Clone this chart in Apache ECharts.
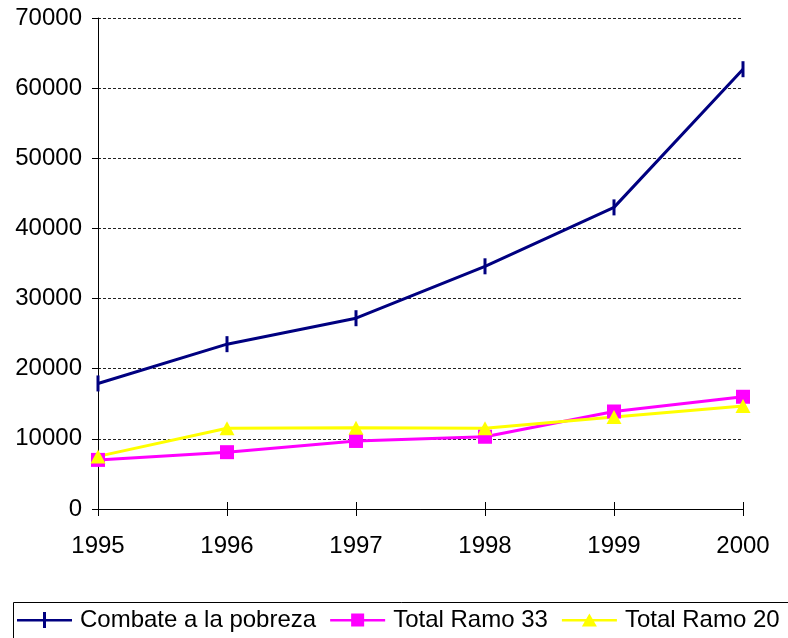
<!DOCTYPE html>
<html>
<head>
<meta charset="utf-8">
<script src="https://cdn.jsdelivr.net/npm/echarts@6/dist/echarts.min.js"></script>
<style>html,body{margin:0;padding:0;background:#fff;}#c{width:788px;height:638px;}</style>
</head>
<body>
<div id="c"></div>
<script>
const years = ['1995', '1996', '1997', '1998', '1999', '2000'];
const combate = [17900, 23500, 27200, 34600, 43000, 62700];
const ramo33 = [7000, 8100, 9700, 10300, 13900, 16000];
const ramo20 = [7500, 11500, 11600, 11500, 13100, 14700];
const yTicks = [0, 10000, 20000, 30000, 40000, 50000, 60000, 70000];

const FONT = 'Arial, "Liberation Sans", sans-serif';
const chart = echarts.init(document.getElementById('c'), null, {renderer: 'canvas'});
chart.setOption({
  animation: false,
  backgroundColor: '#fff',
  textStyle: {fontFamily: FONT},
  grid: {left: 98, right: 45, top: 18, bottom: 129, containLabel: false},
  graphic: [{
    type: 'rect', left: 11, top: 600, z: 0,
    shape: {x: 0, y: 0, width: 800, height: 60},
    style: {fill: 'none', stroke: '#000', lineWidth: 1}
  }],
  xAxis: [{
    type: 'category', data: years, boundaryGap: false,
    axisLine: {lineStyle: {color: '#000', width: 1}},
    axisTick: {show: true, length: 7, lineStyle: {color: '#000'}},
    axisLabel: {fontSize: 24, color: '#000', margin: 25, fontFamily: FONT},
    splitLine: {show: false}
  }, {
    type: 'category', data: years, boundaryGap: false, position: 'bottom',
    axisLine: {show: false},
    axisTick: {show: true, inside: true, length: 7, lineStyle: {color: '#000'}},
    axisLabel: {show: false},
    splitLine: {show: false}
  }],
  yAxis: {
    type: 'value', min: yTicks[0], max: yTicks[yTicks.length - 1], interval: 10000,
    axisLine: {show: true, lineStyle: {color: '#000', width: 1}},
    axisTick: {show: true, length: 6, lineStyle: {color: '#000'}},
    axisLabel: {fontSize: 24, color: '#000', margin: 16, fontFamily: FONT,
      formatter: function (v) { return String(v); }},
    splitLine: {show: true, lineStyle: {color: '#222', width: 1, type: [3, 2]}}
  },
  legend: {
    left: 12, top: 600, right: 0,
    orient: 'horizontal',
    padding: [8, 0, 0, 5],
    itemWidth: 55, itemHeight: 16, itemGap: 14,
    textStyle: {fontSize: 24, color: '#000', fontFamily: FONT, padding: [0, 0, 0, 3]},
    data: [
      {name: 'Combate a la pobreza', icon: 'path://M0,7 L55,7 L55,9.5 L0,9.5 Z M26,0 L29,0 L29,16 L26,16 Z', itemStyle: {color: '#000080'}},
      {name: 'Total Ramo 33', icon: 'path://M0,0 L0.01,0 L0.01,0.01 Z M0,7 L55,7 L55,9.5 L0,9.5 Z M21,1.5 L34,1.5 L34,14.5 L21,14.5 Z M55,16 L55,15.99 L54.99,16 Z', itemStyle: {color: '#FF00FF'}},
      {name: 'Total Ramo 20', icon: 'path://M0,0 L0.01,0 L0.01,0.01 Z M0,7 L55,7 L55,9.5 L0,9.5 Z M27.5,1.5 L35,14.5 L20,14.5 Z M55,16 L55,15.99 L54.99,16 Z', itemStyle: {color: '#FFFF00'}}
    ]
  },
  series: [{
    name: 'Combate a la pobreza', type: 'line', data: combate,
    symbol: 'rect', symbolSize: [3, 16],
    lineStyle: {color: '#000080', width: 3},
    itemStyle: {color: '#000080'}
  }, {
    name: 'Total Ramo 33', type: 'line', data: ramo33,
    symbol: 'rect', symbolSize: 14,
    lineStyle: {color: '#FF00FF', width: 3},
    itemStyle: {color: '#FF00FF'}
  }, {
    name: 'Total Ramo 20', type: 'line', data: ramo20,
    symbol: 'triangle', symbolSize: [15, 14],
    lineStyle: {color: '#FFFF00', width: 3},
    itemStyle: {color: '#FFFF00'}
  }]
});
</script>
</body>
</html>
